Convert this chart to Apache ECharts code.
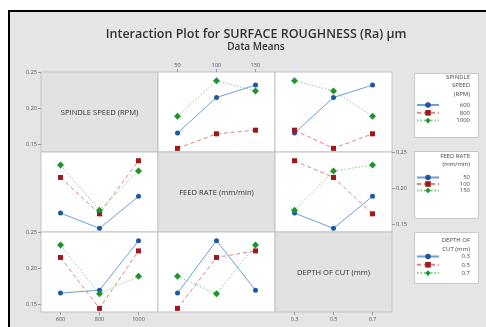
<!DOCTYPE html>
<html>
<head>
<meta charset="utf-8">
<script src="https://cdn.jsdelivr.net/npm/echarts@6/dist/echarts.min.js"></script>
<style>
html, body { margin: 0; padding: 0; background: #fff; }
#chart { width: 486px; height: 327px; }
</style>
</head>
<body>
<div id="chart"></div>
<script>
// factor levels (x categories and line groups)
const spindleLevels = ['600', '800', '1000'];
const feedLevels = ['50', '100', '150'];
const depthLevels = ['0.3', '0.5', '0.7'];
const yTicks = [0.15, 0.20, 0.25];

// data means: rows = first factor level, cols = second factor level
const spindleByFeed = [
    [0.166, 0.215, 0.232],
    [0.145, 0.165, 0.170],
    [0.189, 0.238, 0.224]
];
const spindleByDepth = [
    [0.166, 0.215, 0.232],
    [0.170, 0.145, 0.165],
    [0.238, 0.224, 0.189]
];
const feedByDepth = [
    [0.166, 0.145, 0.189],
    [0.238, 0.215, 0.165],
    [0.170, 0.224, 0.232]
];

const transpose = m => m[0].map((_, j) => m.map(row => row[j]));

const factors = [
    { name: 'SPINDLE SPEED (RPM)', levels: spindleLevels, legendTitle: 'SPINDLE\nSPEED\n(RPM)' },
    { name: 'FEED RATE (mm/min)', levels: feedLevels, legendTitle: 'FEED RATE\n(mm/min)' },
    { name: 'DEPTH OF CUT (mm)', levels: depthLevels, legendTitle: 'DEPTH OF\nCUT (mm)' }
];

// panel (row, col): lines = row factor, x = col factor
const panelMeans = {
    '0-1': spindleByFeed,
    '0-2': spindleByDepth,
    '1-0': transpose(spindleByFeed),
    '1-2': feedByDepth,
    '2-0': transpose(spindleByDepth),
    '2-1': transpose(feedByDepth)
};

const lineStyles = [
    { symbol: 'circle', symbolSize: 5, color: '#1f56a3', line: '#6f9dd8', type: 'solid' },
    { symbol: 'rect', symbolSize: 5, color: '#a3171c', line: '#d98587', type: [4, 3] },
    { symbol: 'diamond', symbolSize: 7, color: '#1c962c', line: '#86cc8c', type: [1.5, 2] }
];

// layout
const colLeft = [41, 158, 275];
const rowTop = [72, 152, 232];
const cellW = 117;
const cellH = 80;

const labelFont = { fontSize: 5.5, color: '#555', fontFamily: 'Open Sans' };

const grids = [];
const xAxes = [];
const yAxes = [];
const series = [];
const graphics = [];

for (let r = 0; r < 3; r++) {
    for (let c = 0; c < 3; c++) {
        const i = r * 3 + c;
        const diag = r === c;
        grids.push({
            left: colLeft[c], top: rowTop[r], width: cellW, height: cellH,
            show: true,
            backgroundColor: diag ? '#e2e2e2' : '#fff',
            borderColor: '#c2c2c2', borderWidth: 1
        });

        // which axes carry labels
        let xPos = null;
        if (c === 1 && r === 0) xPos = 'top';
        if (c !== 1 && r === 2) xPos = 'bottom';
        let yPos = null;
        if (r !== 1 && c === 0) yPos = 'left';
        if (r === 1 && c === 2) yPos = 'right';

        xAxes.push({
            type: 'category', gridIndex: i, data: factors[c].levels,
            boundaryGap: true,
            position: xPos || 'bottom',
            axisLine: { show: false },
            axisTick: { show: !!xPos, alignWithLabel: true, length: 3, lineStyle: { color: '#999' } },
            axisLabel: Object.assign({ show: !!xPos, margin: 4 }, labelFont),
            splitLine: { show: false }
        });
        yAxes.push({
            type: 'value', gridIndex: i, min: 0.14, max: 0.25,
            position: yPos || 'left',
            axisLine: { show: false },
            axisTick: { show: !!yPos, length: 3, customValues: yTicks, lineStyle: { color: '#999' } },
            axisLabel: Object.assign({
                show: !!yPos, margin: 4, customValues: yTicks,
                formatter: v => v.toFixed(2)
            }, labelFont),
            splitLine: { show: false }
        });

        if (diag) {
            graphics.push({
                type: 'text',
                x: colLeft[c] + cellW / 2, y: rowTop[r] + cellH / 2 + 1,
                style: {
                    text: factors[r].name, fontSize: 7.6, fill: '#333',
                    fontFamily: 'Open Sans',
                    align: 'center', verticalAlign: 'middle'
                }
            });
            continue;
        }

        const means = panelMeans[r + '-' + c];
        factors[r].levels.forEach((lvl, k) => {
            const st = lineStyles[k];
            series.push({
                type: 'line', name: lvl,
                xAxisIndex: i, yAxisIndex: i,
                data: means[k],
                symbol: st.symbol, symbolSize: st.symbolSize,
                itemStyle: { color: st.color },
                lineStyle: { color: st.line, width: 1, type: st.type },
                emphasis: { disabled: true },
                z: 3 + k
            });
        });
    }
}

// legend boxes
const legendBoxes = [
    { top: 73, bottom: 137, titleY: 77, itemTop: 102, gap: 1.8 },
    { top: 151, bottom: 218, titleY: 156, itemTop: 174.5, gap: 0.5 },
    { top: 232, bottom: 283, titleY: 240.5, itemTop: 253.5, gap: 2.3 }
];
const legends = [];
legendBoxes.forEach((b, f) => {
    graphics.push({
        type: 'rect',
        shape: { x: 414.5, y: b.top + 0.5, width: 64, height: b.bottom - b.top },
        style: { fill: '#fff', stroke: '#c8c8c8', lineWidth: 1 },
        z: -1
    });
    graphics.push({
        type: 'text', x: 470, y: b.titleY - 4.25,
        style: {
            text: factors[f].legendTitle, fontSize: 6, lineHeight: 8.5,
            fill: '#444', fontFamily: 'Open Sans', align: 'right'
        }
    });
    legends.push({
        data: factors[f].levels,
        orient: 'vertical', left: 416, top: b.itemTop,
        itemWidth: 22, itemHeight: 7, itemGap: b.gap,
        padding: 0,
        formatter: name => '{v|' + name + '}',
        textStyle: {
            rich: { v: { width: 26, align: 'right', fontSize: 6, color: '#444', fontFamily: 'Open Sans' } }
        }
    });
});

// black frame on the left and top with white margin
graphics.push(
    { type: 'rect', shape: { x: 0, y: 0, width: 486, height: 10 }, style: { fill: '#fff' }, z: -2 },
    { type: 'rect', shape: { x: 0, y: 0, width: 8, height: 327 }, style: { fill: '#fff' }, z: -2 },
    { type: 'line', shape: { x1: 9, y1: 11, x2: 486, y2: 11 }, style: { stroke: '#000', lineWidth: 2 } },
    { type: 'line', shape: { x1: 9, y1: 10, x2: 9, y2: 327 }, style: { stroke: '#000', lineWidth: 2 } }
);

const chart = echarts.init(document.getElementById('chart'));
chart.setOption({
    backgroundColor: '#e5e5e5',
    animation: false,
    title: {
        text: 'Interaction Plot for SURFACE ROUGHNESS (Ra) µm',
        subtext: 'Data Means',
        left: 251, top: 23, textAlign: 'center', itemGap: 1,
        textStyle: { fontSize: 12.5, fontWeight: 600, color: '#333', fontFamily: 'Open Sans' },
        subtextStyle: { fontSize: 10, fontWeight: 600, color: '#333', fontFamily: 'Open Sans' }
    },
    legend: legends,
    grid: grids,
    xAxis: xAxes,
    yAxis: yAxes,
    series: series,
    graphic: graphics
});
</script>
</body>
</html>
